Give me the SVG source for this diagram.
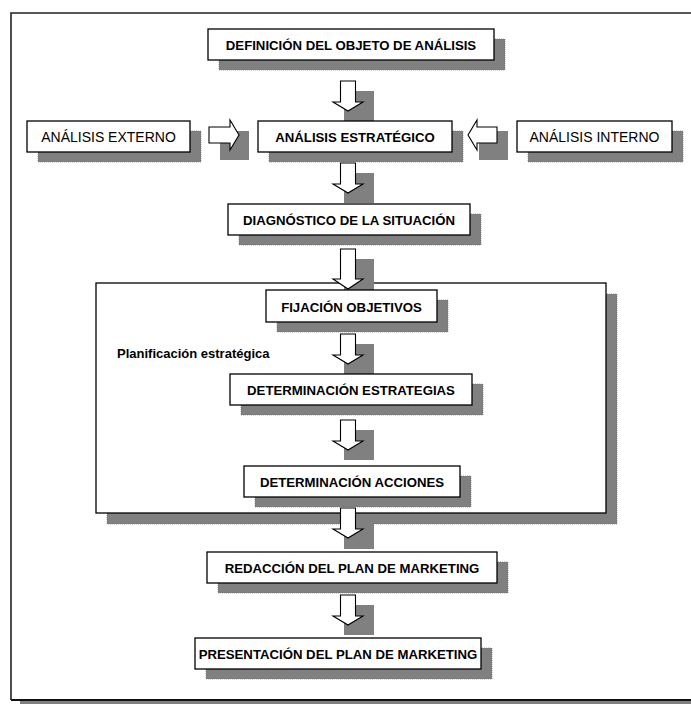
<svg xmlns="http://www.w3.org/2000/svg" width="691" height="704" viewBox="0 0 691 704">
<defs>
<style>
.sh{fill:#808080;stroke:#666;stroke-width:0.6;stroke-dasharray:1 1}
.bx{fill:#fff;stroke:#000;stroke-width:1.3}
.ar{fill:#fff;stroke:#000;stroke-width:1.1;stroke-linejoin:miter}
.ash{fill:#808080}
.tb{font-family:"Liberation Sans",Arial,sans-serif;font-weight:bold;font-size:13.2px;fill:#000;text-anchor:middle}
.tr{font-family:"Liberation Sans",Arial,sans-serif;font-size:14px;fill:#000;text-anchor:middle}
.tl{font-family:"Liberation Sans",Arial,sans-serif;font-weight:bold;font-size:13px;fill:#000}
</style>
<path id="da" d="M7.5,0 H22.5 V21 H30 L15,30 L0,21 H7.5 Z"/>
</defs>
<rect x="20" y="700" width="680" height="4" fill="#808080"/>
<path d="M11,700 V13 H691" fill="none" stroke="#222" stroke-width="1.6"/>
<line x1="11" y1="700" x2="691" y2="700" stroke="#111" stroke-width="1.8"/>

<g id="planificacion">
<rect class="sh" x="107" y="294" width="510" height="230"/>
<rect class="bx" x="96" y="283" width="510" height="230"/>
<text class="tl" x="117" y="358">Planificación estratégica</text>
</g>

<g id="connectors">
<g><rect class="ash" x="344" y="91" width="30" height="30"/><use href="#da" x="333" y="81" class="ar"/></g>
<g><rect class="ash" x="344" y="173" width="30" height="30"/><use href="#da" x="333" y="163" class="ar"/></g>
<g><rect class="ash" x="344" y="259" width="30" height="40"/><path class="ar" d="M340.5,249 H355.5 V279 H363 L348,289 L333,279 H340.5 Z"/></g>
<g><rect class="ash" x="344" y="344" width="30" height="30"/><use href="#da" x="333" y="334" class="ar"/></g>
<g><rect class="ash" x="344" y="430" width="30" height="30"/><use href="#da" x="333" y="420" class="ar"/></g>
<g><rect class="ash" x="344" y="518" width="30" height="31"/><use href="#da" x="333" y="508" class="ar"/></g>
<g><rect class="ash" x="344" y="605" width="30" height="30"/><use href="#da" x="333" y="595" class="ar"/></g>
<g><rect class="ash" x="220" y="131" width="29" height="29"/><path class="ar" d="M209,127 H230 V120 L239,135 L230,150 V143 H209 Z"/></g>
<g><rect class="ash" x="479" y="131" width="29" height="29"/><path class="ar" d="M497,127 H477 V120 L468,135 L477,150 V143 H497 Z"/></g>
</g>

<g id="definicion">
<rect class="sh" x="219" y="39" width="286" height="31"/>
<rect class="bx" x="208" y="29" width="286" height="31"/>
<text class="tb" x="351" y="50">DEFINICIÓN DEL OBJETO DE ANÁLISIS</text>
</g>
<g id="externo">
<rect class="sh" x="38" y="131" width="163" height="31"/>
<rect class="bx" x="27" y="121" width="163" height="31"/>
<text class="tr" x="108.5" y="142">ANÁLISIS EXTERNO</text>
</g>
<g id="estrategico">
<rect class="sh" x="269" y="131" width="194" height="31"/>
<rect class="bx" x="258" y="121" width="194" height="31"/>
<text class="tb" x="355" y="141.5">ANÁLISIS ESTRATÉGICO</text>
</g>
<g id="interno">
<rect class="sh" x="528" y="131" width="155" height="31"/>
<rect class="bx" x="517" y="121" width="155" height="31"/>
<text class="tr" x="594.5" y="142">ANÁLISIS INTERNO</text>
</g>
<g id="diagnostico">
<rect class="sh" x="239" y="214" width="242" height="31"/>
<rect class="bx" x="228" y="204" width="242" height="31"/>
<text class="tb" x="349" y="225">DIAGNÓSTICO DE LA SITUACIÓN</text>
</g>
<g id="fijacion">
<rect class="sh" x="277" y="300" width="171" height="32"/>
<rect class="bx" x="266" y="290" width="171" height="32"/>
<text class="tb" x="351.5" y="311.5">FIJACIÓN OBJETIVOS</text>
</g>
<g id="estrategias">
<rect class="sh" x="241" y="384" width="242" height="31"/>
<rect class="bx" x="230" y="374" width="242" height="31"/>
<text class="tb" x="351" y="395">DETERMINACIÓN ESTRATEGIAS</text>
</g>
<g id="acciones">
<rect class="sh" x="255" y="476" width="216" height="31"/>
<rect class="bx" x="244" y="466" width="216" height="31"/>
<text class="tb" x="352" y="487">DETERMINACIÓN ACCIONES</text>
</g>
<g id="redaccion">
<rect class="sh" x="218" y="562" width="290" height="31"/>
<rect class="bx" x="207" y="552" width="290" height="31"/>
<text class="tb" x="352" y="573">REDACCIÓN DEL PLAN DE MARKETING</text>
</g>
<g id="presentacion">
<rect class="sh" x="206" y="648" width="286" height="31"/>
<rect class="bx" x="195" y="638" width="286" height="31"/>
<text class="tb" x="338" y="659">PRESENTACIÓN DEL PLAN DE MARKETING</text>
</g>
</svg>
